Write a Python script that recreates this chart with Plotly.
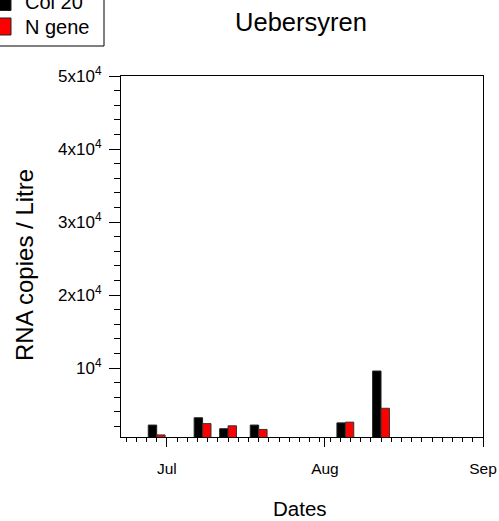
import plotly.graph_objects as go

# ---- data ----
dates = ["2020-06-29", "2020-07-08", "2020-07-13", "2020-07-19", "2020-08-05", "2020-08-12"]
col20 = [2200, 3200, 1700, 2200, 2500, 9600]
ngene = [850, 2400, 2100, 1600, 2600, 4500]
series_names = ["Col 20", "N gene"]
series_colors = ["#000000", "#ff0000"]
month_ticks = ["2020-07-01", "2020-08-01", "2020-09-01"]
month_labels = ["Jul", "Aug", "Sep"]
y_tickvals = [10000, 20000, 30000, 40000, 50000]
y_ticklabels = ["10<sup>4</sup>", "2x10<sup>4</sup>", "3x10<sup>4</sup>", "4x10<sup>4</sup>", "5x10<sup>4</sup>"]
chart_title = "Uebersyren"
x_title = "Dates"
y_title = "RNA copies / Litre"

# ---- layout geometry (pixels) ----
W, H = 499, 521
L, R, T, B = 121, 483, 76, 437
FONT = "Liberation Sans, Arial, sans-serif"
DAY = 86400000
bar_w = 1.65 * DAY


def px_x(px):
    return (px - L) / (R - L)


def px_y(py):
    return (B - py) / (B - T)


fig = go.Figure()
fig.add_bar(x=dates, y=col20, name=series_names[0], width=bar_w, offset=-bar_w,
            marker=dict(color=series_colors[0], line=dict(color="#222222", width=1)))
fig.add_bar(x=dates, y=ngene, name=series_names[1], width=bar_w, offset=0,
            marker=dict(color=series_colors[1], line=dict(color="#333333", width=1)))

fig.update_layout(
    width=W, height=H,
    margin=dict(l=L, r=W - R, t=T, b=H - B, autoexpand=False),
    paper_bgcolor="white", plot_bgcolor="white",
    showlegend=False, barmode="overlay",
    font=dict(family=FONT, color="black"),
    title=dict(text=chart_title, x=px_x(301), xref="paper", xanchor="center",
               y=1 - 22 / H, yref="container", yanchor="middle",
               font=dict(size=25.5, family=FONT, color="black")),
)

fig.update_xaxes(
    type="date", range=["2020-06-22", "2020-09-01"],
    tickvals=month_ticks, ticktext=month_labels,
    ticks="outside", ticklen=9, tickwidth=1, tickcolor="black",
    tickfont=dict(size=15.5, family=FONT, color="black"), ticklabelstandoff=8,
    showline=True, linecolor="black", linewidth=1, mirror=True,
    showgrid=False, zeroline=False,
    minor=dict(ticks="outside", ticklen=4, tickwidth=1, tickcolor="black",
               tick0="2020-07-01", dtick=2 * DAY, showgrid=False),
)
fig.update_yaxes(
    range=[566, 50000],
    tickvals=y_tickvals, ticktext=y_ticklabels,
    ticks="outside", ticklen=11, tickwidth=1, tickcolor="black",
    tickfont=dict(size=17, family=FONT, color="black"), ticklabelstandoff=4,
    showline=True, linecolor="black", linewidth=1, mirror=True,
    showgrid=False, zeroline=False,
    minor=dict(ticks="outside", ticklen=6, tickwidth=1, tickcolor="black",
               tick0=0, dtick=2000, showgrid=False),
)

# axis titles
fig.add_annotation(text=x_title, xref="paper", yref="paper", x=px_x(300), y=px_y(508),
                   xanchor="center", yanchor="middle", showarrow=False,
                   font=dict(size=20.5, family=FONT, color="black"))
fig.add_annotation(text=y_title, xref="paper", yref="paper", x=px_x(24), y=px_y(265),
                   xanchor="center", yanchor="middle", showarrow=False, textangle=-90,
                   font=dict(size=24, family=FONT, color="black"))

# legend (box partly outside the page, as in the reference)
fig.add_shape(type="rect", xref="paper", yref="paper",
              x0=px_x(-5), x1=px_x(104), y0=px_y(46), y1=px_y(-5),
              line=dict(color="black", width=1), fillcolor="white")
legend_rows = [2, 26.5]
for name, color, cy in zip(series_names, series_colors, legend_rows):
    fig.add_shape(type="rect", xref="paper", yref="paper",
                  x0=px_x(-6), x1=px_x(11), y0=px_y(cy + 8.5), y1=px_y(cy - 8.5),
                  line=dict(color="#222222", width=1), fillcolor=color)
    fig.add_annotation(text=name, xref="paper", yref="paper", x=px_x(23), y=px_y(cy),
                       xanchor="left", yanchor="middle", showarrow=False,
                       font=dict(size=20, family=FONT, color="black"))

fig.write_html("out.html")
